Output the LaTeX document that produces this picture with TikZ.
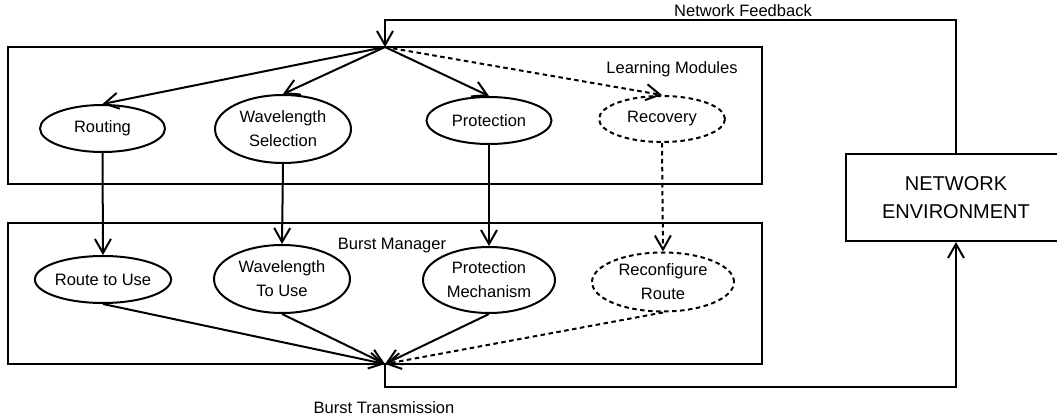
\documentclass[tikz,border=0pt]{standalone}
\usepackage{fontspec}
\setmainfont{Liberation Sans}
\usetikzlibrary{arrows.meta,shapes.geometric}
\begin{document}
\begin{tikzpicture}[x=1pt,y=-1pt,
  lw/.style={line width=2pt},
  arr/.style={lw,-{Straight Barb[length=14pt,width=16pt]}},
  dsh/.style={dash pattern=on 4.5pt off 3.5pt},
  oval/.style={draw,lw,ellipse,inner sep=0pt,align=center,font=\fontsize{16.5}{24}\selectfont},
  frame/.style={draw,lw,inner sep=0pt},
  lbl/.style={font=\fontsize{16.5}{24}\selectfont,inner sep=0pt,anchor=base}]
\clip (0,0) rectangle (1057,417);
% frames
\node[frame,minimum width=754pt,minimum height=137pt] (lm) at (385,115.5) {};
\node[frame,minimum width=754pt,minimum height=141pt] (bm) at (385,293.5) {};
\node[frame,minimum width=220pt,minimum height=87pt,align=center,font=\fontsize{20}{28}\selectfont] (env) at (956,197.5) {NETWORK\\ENVIRONMENT};
% labels
\node[lbl] (nf) at (743,17) {Network Feedback};
\node[lbl] (lml) at (672,74) {Learning Modules};
\node[lbl] (bml) at (392,249) {Burst Manager};
\node[lbl] (btl) at (384,413) {Burst Transmission};
% learning modules
\node[oval,minimum width=125pt,minimum height=47pt] (routing) at (102.5,128.5) {Routing};
\node[oval,minimum width=136pt,minimum height=68pt] (ws) at (283,129) {Wavelength\\Selection};
\node[oval,minimum width=125pt,minimum height=47pt] (prot) at (489,120.5) {Protection};
\node[oval,dsh,minimum width=126pt,minimum height=46pt] (rec) at (662,119) {Recovery};
% burst manager
\node[oval,minimum width=125pt,minimum height=47pt] (rtu) at (103,279.5) {Route to Use};
\node[oval,minimum width=136pt,minimum height=68pt] (wtu) at (282,279) {Wavelength\\To Use};
\node[oval,minimum width=132pt,minimum height=66pt] (pm) at (489,280) {Protection\\Mechanism};
\node[oval,dsh,minimum width=142pt,minimum height=59pt] (rr) at (663,282) {Reconfigure\\Route};
% hub points
\coordinate (fb) at (385,47);
\coordinate (fbc) at (385,20);
\coordinate (bt) at (385,364);
\coordinate (btc) at (385,387);
% connectors
\draw[arr] (env.north) |- (fbc) -- (fb);
\draw[arr] (fb) -- (routing.north);
\draw[arr] (fb) -- (ws.north);
\draw[arr] (fb) -- (prot.north);
\draw[arr,dsh] (fb) -- (rec.north);
\draw[arr] (routing.south) -- (rtu.north);
\draw[arr] (ws.south) -- (wtu.north);
\draw[arr] (prot.south) -- (pm.north);
\draw[arr,dsh] (rec.south) -- (rr.north);
\draw[arr] (rtu.south) -- (bt);
\draw[arr] (wtu.south) -- (bt);
\draw[arr] (pm.south) -- (bt);
\draw[arr,dsh] (rr.south) -- (bt);
\draw[arr] (bt) -- (btc) -| (env.south);
\end{tikzpicture}
\end{document}
